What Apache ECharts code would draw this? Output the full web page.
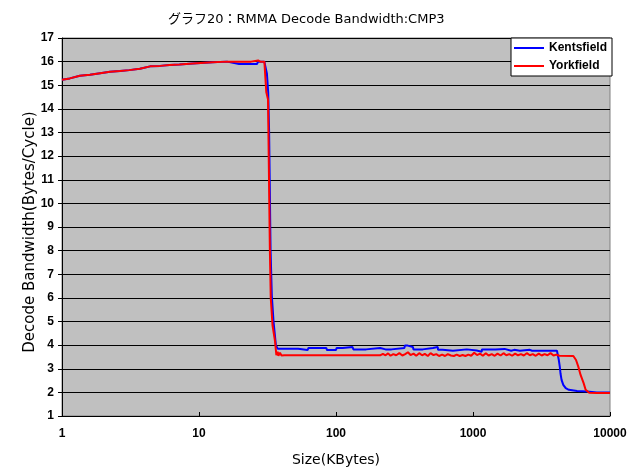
<!DOCTYPE html>
<html><head><meta charset="utf-8">
<script src="https://cdn.jsdelivr.net/npm/echarts@6/dist/echarts.min.js"></script>
<style>html,body{margin:0;padding:0;background:#fff}#c{width:633px;height:472px}</style>
</head><body><div id="c"></div>
<script>
const titleText = 'グラフ20：RMMA Decode Bandwidth:CMP3';
const yAxisTitle = 'Decode Bandwidth(Bytes/Cycle)';
const xAxisTitle = 'Size(KBytes)';
const seriesNames = ['Kentsfield', 'Yorkfield'];
const yTicks = {min: 1, max: 17, interval: 1};
const xRange = {min: 1, max: 10000};

const yorkSize = [1, 1.14, 1.35, 1.6, 1.9, 2.24, 2.65, 3.1, 3.7, 4.4, 5.2, 6.1, 7.2, 9, 12.6, 16, 20, 24, 27, 28, 29, 30,
  30.5, 31, 31.9, 32.9, 33.4, 34.4, 35.9, 36.7, 37.5, 38, 39, 40, 41, 42, 70, 71, 72,
  210, 220, 230, 240, 250, 262, 275, 290, 305, 320, 335, 350, 368, 385, 405, 425, 445, 468, 490, 515, 540, 565, 595, 625, 655, 690, 725, 760, 800, 840, 880, 925, 970,
  1020, 1070, 1125, 1180, 1240, 1300, 1370, 1440, 1510, 1590, 1670, 1750, 1840, 1930, 2030, 2130, 2240, 2350, 2470, 2600, 2730, 2870, 3020, 3170, 3330, 3500, 3680, 3870, 4060, 4270,
  5400, 5650, 5870, 6100, 6420, 6640, 7050, 8000, 10000];
const yorkBW = [15.23, 15.29, 15.4, 15.44, 15.51, 15.57, 15.6, 15.64, 15.7, 15.8, 15.82, 15.86, 15.88, 15.92, 15.97, 16.0, 16.0, 16.0, 16.05, 16.0, 16.0, 16.0,
  15.96, 14.7, 14.4, 8.07, 6.0, 4.84, 4.16, 3.58, 3.72, 3.55, 3.68, 3.56, 3.62, 3.57, 3.57, 3.62, 3.57,
  3.57, 3.63, 3.57, 3.65, 3.55, 3.62, 3.57, 3.66, 3.56, 3.62, 3.70, 3.58, 3.64, 3.55, 3.66, 3.57, 3.63, 3.54, 3.66, 3.58, 3.62, 3.54, 3.60, 3.54, 3.62, 3.56, 3.54, 3.60, 3.54, 3.58, 3.54, 3.60, 3.55,
  3.68, 3.58, 3.64, 3.55, 3.66, 3.56, 3.62, 3.55, 3.64, 3.56, 3.66, 3.57, 3.62, 3.55, 3.64, 3.57, 3.62, 3.56, 3.66, 3.57, 3.62, 3.55, 3.64, 3.56, 3.62, 3.57, 3.66, 3.56, 3.60, 3.55,
  3.54, 3.37, 3.09, 2.74, 2.39, 2.11, 1.98, 1.97, 1.97];

const kentsSize = [1, 1.14, 1.35, 1.6, 1.9, 2.24, 2.65, 3.1, 3.7, 4.4, 5.2, 6.1, 7.2, 9, 12.6, 16, 19.6, 26.5, 27, 30,
  30.5, 31.3, 32, 32.5, 33.3, 34, 35, 36.4, 37.5,
  53, 54, 62, 63, 85, 86, 100, 101, 112, 113, 132, 134, 166, 168, 210, 212, 230, 254, 256, 316, 318, 334, 336, 364, 368, 430, 435, 510, 512, 553, 556, 600, 606, 714, 718, 900, 905, 1064, 1068, 1158, 1162, 1460, 1470, 1700, 1900, 2000, 2200, 2600, 2700, 3500, 3600, 4100,
  4230, 4300, 4350, 4430, 4560, 4750, 5010, 5750, 6800, 8000, 10000];
const kentsBW = [15.23, 15.29, 15.4, 15.44, 15.51, 15.57, 15.6, 15.64, 15.7, 15.8, 15.82, 15.86, 15.88, 15.92, 15.97, 16.0, 15.9, 15.9, 16.0, 16.0,
  16.0, 15.5, 14.7, 13.0, 8.0, 6.1, 5.0, 4.0, 3.85,
  3.85, 3.79, 3.79, 3.88, 3.88, 3.79, 3.79, 3.88, 3.88, 3.92, 3.92, 3.82, 3.82, 3.88, 3.88, 3.85, 3.82, 3.82, 3.88, 3.88, 3.98, 3.98, 3.92, 3.92, 3.82, 3.82, 3.88, 3.88, 3.92, 3.92, 3.80, 3.80, 3.76, 3.76, 3.82, 3.82, 3.77, 3.77, 3.72, 3.72, 3.82, 3.82, 3.78, 3.84, 3.76, 3.80, 3.76, 3.80, 3.76, 3.76, 3.78, 3.76,
  3.37, 3.09, 2.81, 2.53, 2.32, 2.18, 2.11, 2.06, 2.04, 2.0, 2.0];

const chart = echarts.init(document.getElementById('c'), null, {renderer: 'canvas'});
const pairs = (xs, ys) => xs.map((x, i) => [x, ys[i]]);
const font = '"Liberation Sans", Arial, sans-serif';
const wideFont = '"DejaVu Sans", "Noto Sans CJK JP", sans-serif';
chart.setOption({
  animation: false,
  backgroundColor: '#ffffff',
  title: {
    text: titleText, left: 163, top: 8,
    textStyle: {fontFamily: wideFont, fontSize: 13, fontWeight: 'normal', color: '#000'}
  },
  graphic: [{
    type: 'text', x: 30, y: 232, rotation: Math.PI / 2,
    style: {text: yAxisTitle, fontFamily: wideFont, fontSize: 15, fill: '#000', align: 'center', verticalAlign: 'middle'}
  }],
  legend: {
    data: seriesNames.map(n => ({name: n, icon: 'rect'})), orient: 'vertical', left: 511, top: 38,
    backgroundColor: '#ffffff', borderColor: '#000', borderWidth: 1,
    padding: [3, 5, 3, 3], itemGap: 4, itemWidth: 30, itemHeight: 2,
    textStyle: {fontFamily: font, fontWeight: 'bold', fontSize: 12, color: '#000', lineHeight: 14}
  },
  grid: {
    left: 62, right: 23, top: 38, bottom: 54, show: true,
    backgroundColor: '#C0C0C0', borderColor: '#808080', borderWidth: 1
  },
  xAxis: {
    type: 'log', logBase: 10, min: xRange.min, max: xRange.max,
    name: xAxisTitle, nameLocation: 'middle', nameGap: 37,
    nameTextStyle: {fontFamily: wideFont, fontSize: 14, color: '#000'},
    axisLine: {lineStyle: {color: '#000', width: 1}},
    axisTick: {inside: true, length: 4, lineStyle: {color: '#000'}},
    minorTick: {show: false},
    splitLine: {show: false},
    axisLabel: {margin: 12, fontFamily: font, fontWeight: 'bold', fontSize: 12, color: '#000',
      formatter: v => String(Math.round(v))}
  },
  yAxis: {
    type: 'value', min: yTicks.min, max: yTicks.max, interval: yTicks.interval,
    axisLine: {show: true, lineStyle: {color: '#000', width: 1}},
    axisTick: {show: true, length: 4, lineStyle: {color: '#000'}},
    splitLine: {show: true, lineStyle: {color: '#000', width: 1}},
    axisLabel: {margin: 8, fontFamily: font, fontWeight: 'bold', fontSize: 12, color: '#000'}
  },
  series: [
    {name: seriesNames[0], type: 'line', symbol: 'none', data: pairs(kentsSize, kentsBW),
     lineStyle: {color: '#0000FF', width: 2}, itemStyle: {color: '#0000FF'}},
    {name: seriesNames[1], type: 'line', symbol: 'none', data: pairs(yorkSize, yorkBW),
     lineStyle: {color: '#FF0000', width: 2}, itemStyle: {color: '#FF0000'}}
  ]
});
</script></body></html>
